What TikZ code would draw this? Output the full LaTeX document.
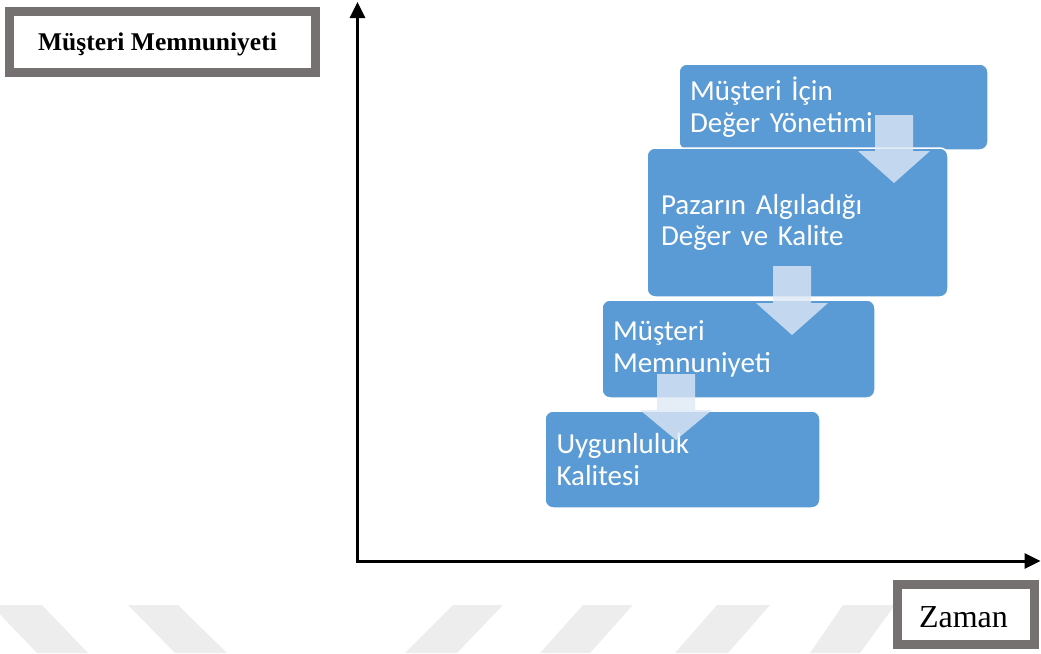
\documentclass[tikz,border=0pt]{standalone}
\usepackage{fontspec}
\setmainfont{Liberation Serif}
\newfontfamily\calibri{Carlito}
\usetikzlibrary{arrows.meta}
\definecolor{boxblue}{HTML}{5B9BD5}
\definecolor{arrowfill}{HTML}{DEE8F5}
\definecolor{framegray}{HTML}{767171}
\definecolor{wmgray}{HTML}{EDEDED}
\tikzset{
  bluebox/.style={draw=white, line width=1.5pt, fill=boxblue, rounded corners=8pt,
    text=white, align=left, inner xsep=11pt, inner ysep=0pt,
    font=\calibri\fontsize{29}{31.5}\selectfont},
  grayframe/.style={draw=framegray, line width=9pt, fill=white, inner sep=0pt},
  blockarrow/.style={fill=arrowfill, fill opacity=0.8, draw=none},
  stripe/.style={fill=wmgray, draw=none},
  axis/.style={line width=3pt, {Triangle[length=16pt,width=15pt]}-{Triangle[length=16pt,width=15pt]}}
}
\begin{document}
\begin{tikzpicture}[x=1pt,y=-1pt]
\useasboundingbox (0,0) rectangle (1041,653);
% watermark stripes
\fill[stripe] (-9,605) -- (42,605) -- (88,653) -- (37,653) -- cycle;
\fill[stripe] (128,605) -- (178,605) -- (227,653) -- (175,653) -- cycle;
\fill[stripe] (453,605) -- (503,605) -- (457,653) -- (405,653) -- cycle;
\fill[stripe] (583,605) -- (633,605) -- (590,653) -- (540,653) -- cycle;
\fill[stripe] (717,605) -- (770,605) -- (728,653) -- (675,653) -- cycle;
\fill[stripe] (843,605) -- (895,605) -- (860,653) -- (810,653) -- cycle;

% axes
\coordinate (ytip) at (357.5,2);
\coordinate (origin) at (357.5,561);
\coordinate (xtip) at (1040.5,561);
\draw[axis] (ytip) -- (origin) -- (xtip);

% axis labels
\node[grayframe, minimum width=306pt, minimum height=61pt] (mmbox) at (162.5,42) {};
\node[anchor=base, inner sep=0pt, font=\bfseries\fontsize{25.5}{28}\selectfont] (mmtext) at (157.5,50.5) {Müşteri Memnuniyeti};
\node[grayframe, minimum width=137pt, minimum height=60pt] (zbox) at (965.5,614) {};
\node[anchor=base, inner sep=0pt, font=\fontsize{32}{36}\selectfont] (ztext) at (963.5,627) {Zaman};

% blue boxes
\node[bluebox, minimum width=309pt, minimum height=86pt, text width=287pt] (b1) at (833.5,107) {Müşteri İçin\\Değer Yönetimi};
\node[bluebox, minimum width=301pt, minimum height=149pt, text width=273pt, inner xsep=14pt] (b2) at (797.5,222.5) {Pazarın Algıladığı\\Değer ve Kalite};
\node[bluebox, minimum width=273pt, minimum height=98pt, text width=251pt] (b3) at (738.5,349) {Müşteri\\Memnuniyeti};
\node[bluebox, minimum width=275pt, minimum height=97pt, text width=252pt, inner xsep=11.5pt] (b4) at (682.5,459.5) {Uygunluluk\\Kalitesi};

% block arrows
\fill[blockarrow] (875,115) -- (913,115) -- (913,151) -- (930,151) -- (894,183) -- (858,151) -- (875,151) -- cycle;
\fill[blockarrow] (773,266) -- (811,266) -- (811,303) -- (828,303) -- (792,335) -- (756,303) -- (773,303) -- cycle;
\fill[blockarrow] (657,374) -- (695,374) -- (695,410) -- (712,410) -- (676,440) -- (640,410) -- (657,410) -- cycle;
\end{tikzpicture}
\end{document}
